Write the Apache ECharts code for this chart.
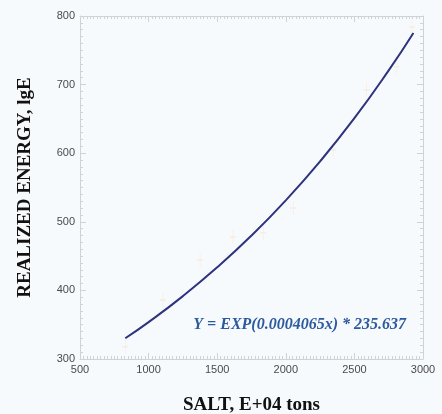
<!DOCTYPE html>
<html><head><meta charset="utf-8">
<script src="https://cdn.jsdelivr.net/npm/echarts@6/dist/echarts.min.js"></script>
<style>html,body{margin:0;padding:0;background:#f7fafd}#c{width:442px;height:414px}</style>
</head><body><div id="c"></div>
<script>
const fitX = [830, 1000, 1250, 1500, 1750, 2000, 2250, 2500, 2750, 2930];
const fitY = [330.2, 353.8, 391.7, 433.6, 479.9, 531.3, 588.1, 651.0, 720.7, 775.3];
const obsX = [830, 1105, 1375, 1615, 1835, 2055, 2345, 2590, 2810, 2920];
const obsY = [318, 386, 444, 478, 484, 520, 605, 692, 726, 784];
const xTicks = [500, 1000, 1500, 2000, 2500, 3000];
const yTicks = [300, 400, 500, 600, 700, 800];
const equation = 'Y = EXP(0.0004065x) * 235.637';
const xTitle = 'SALT, E+04 tons';
const yTitle = 'REALIZED ENERGY, lgE';

const chart = echarts.init(document.getElementById('c'));
const tickCol = '#cfd3d8';
function axis(pos, ticks, show, split) {
  return {
    type: 'value', position: pos,
    min: ticks[0], max: ticks[ticks.length - 1], interval: ticks[1] - ticks[0],
    axisLine: { show: true, lineStyle: { color: tickCol, width: 1 } },
    axisTick: { show: true, inside: true, length: 6, lineStyle: { color: tickCol } },
    minorTick: { show: true, splitNumber: split, length: 3, lineStyle: { color: tickCol } },
    splitLine: { show: false },
    axisLabel: { show: show, color: '#4a4a4a', fontSize: 11, fontFamily: 'Liberation Sans', margin: 5,
      formatter: v => String(v) }
  };
}
const xa = axis('bottom', xTicks, true, 20);
xa.name = xTitle; xa.nameLocation = 'middle'; xa.nameGap = 37;
xa.nameTextStyle = { fontFamily: 'Liberation Serif', fontWeight: 'bold', fontSize: 19, color: '#111' };
const xa2 = axis('top', xTicks, false, 20);
const ya = axis('left', yTicks, true, 10);
ya.name = yTitle; ya.nameLocation = 'middle'; ya.nameGap = 45;
ya.nameTextStyle = { fontFamily: 'Liberation Serif', fontWeight: 'bold', fontSize: 19, color: '#111' };
const ya2 = axis('right', yTicks, false, 10);

chart.setOption({
  backgroundColor: '#f7fafd',
  animation: false,
  grid: { left: 80, right: 19, top: 16, bottom: 55, containLabel: false, outerBoundsMode: 'none' },
  xAxis: [xa, xa2],
  yAxis: [ya, ya2],
  series: [
    {
      type: 'scatter', xAxisIndex: 0, yAxisIndex: 0,
      data: obsX.map((x, i) => [x, obsY[i]]),
      symbol: 'path://M0,0 L0,20 M-3,10 L3,10', symbolSize: [6, 14],
      itemStyle: { color: 'none', borderColor: '#f6e8da', borderWidth: 1 },
      z: 1
    },
    {
      type: 'line', xAxisIndex: 0, yAxisIndex: 0, smooth: true, showSymbol: false,
      data: fitX.map((x, i) => [x, fitY[i]]),
      lineStyle: { color: '#2f327c', width: 2 }, z: 3
    }
  ],
  graphic: [{
    type: 'text', right: 36, top: 317,
    style: { text: equation, fill: '#2d5a9e', font: 'italic bold 16px "Liberation Serif"' }
  }]
});
</script></body></html>
